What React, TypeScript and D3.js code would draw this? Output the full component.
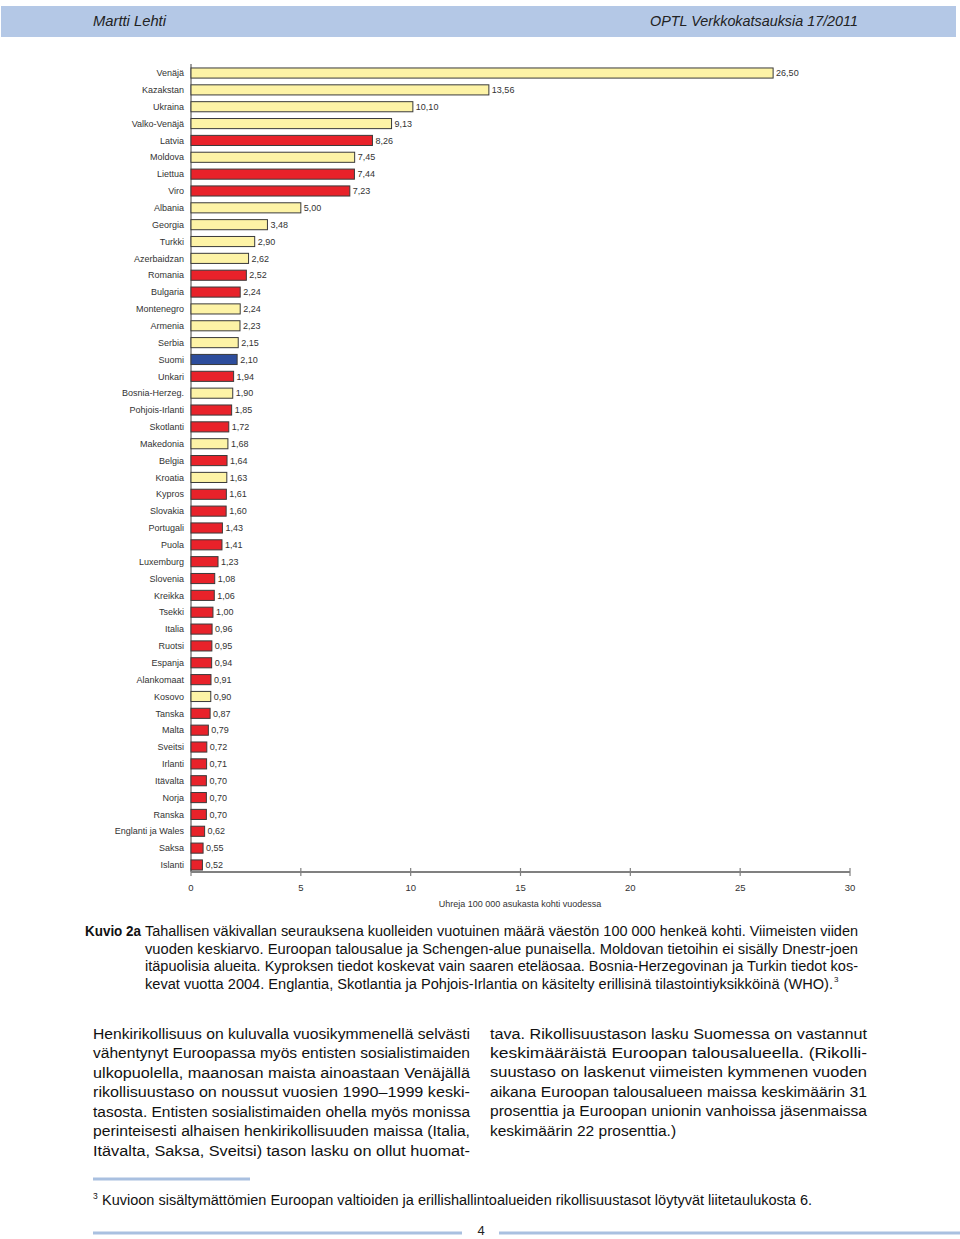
import React from "react";
import * as d3 from "d3";

const countries = ["Venäjä","Kazakstan","Ukraina","Valko-Venäjä","Latvia","Moldova","Liettua","Viro","Albania","Georgia","Turkki","Azerbaidzan","Romania","Bulgaria","Montenegro","Armenia","Serbia","Suomi","Unkari","Bosnia-Herzeg.","Pohjois-Irlanti","Skotlanti","Makedonia","Belgia","Kroatia","Kypros","Slovakia","Portugali","Puola","Luxemburg","Slovenia","Kreikka","Tsekki","Italia","Ruotsi","Espanja","Alankomaat","Kosovo","Tanska","Malta","Sveitsi","Irlanti","Itävalta","Norja","Ranska","Englanti ja Wales","Saksa","Islanti"];
const values = [26.50,13.56,10.10,9.13,8.26,7.45,7.44,7.23,5.00,3.48,2.90,2.62,2.52,2.24,2.24,2.23,2.15,2.10,1.94,1.90,1.85,1.72,1.68,1.64,1.63,1.61,1.60,1.43,1.41,1.23,1.08,1.06,1.00,0.96,0.95,0.94,0.91,0.90,0.87,0.79,0.72,0.71,0.70,0.70,0.70,0.62,0.55,0.52];
// group: O = outside EEA/Schengen, E = EEA/Schengen, F = Finland
const groups = ["O","O","O","O","E","O","E","E","O","O","O","O","E","E","O","O","O","F","E","O","E","E","O","E","O","E","E","E","E","E","E","E","E","E","E","E","E","O","E","E","E","E","E","E","E","E","E","E"];
const xTicks = [0,5,10,15,20,25,30];
const xTitle = "Uhreja 100 000 asukasta kohti vuodessa";

const captionLines = [
  "Tahallisen väkivallan seurauksena kuolleiden vuotuinen määrä väestön 100 000 henkeä kohti. Viimeisten viiden",
  "vuoden keskiarvo. Euroopan talousalue ja Schengen-alue punaisella. Moldovan tietoihin ei sisälly Dnestr-joen",
  "itäpuolisia alueita. Kyproksen tiedot koskevat vain saaren eteläosaa. Bosnia-Herzegovinan ja Turkin tiedot kos-",
  "kevat vuotta 2004. Englantia, Skotlantia ja Pohjois-Irlantia on käsitelty erillisinä tilastointiyksikköinä (WHO).",
];
const leftCol = [
  "Henkirikollisuus on kuluvalla vuosikymmenellä selvästi",
  "vähentynyt Euroopassa myös entisten sosialistimaiden",
  "ulkopuolella, maanosan maista ainoastaan Venäjällä",
  "rikollisuustaso on noussut vuosien 1990–1999 keski-",
  "tasosta. Entisten sosialistimaiden ohella myös monissa",
  "perinteisesti alhaisen henkirikollisuuden maissa (Italia,",
  "Itävalta, Saksa, Sveitsi) tason lasku on ollut huomat-",
];
const rightCol = [
  "tava. Rikollisuustason lasku Suomessa on vastannut",
  "keskimääräistä Euroopan talousalueella. (Rikolli-",
  "suustaso on laskenut viimeisten kymmenen vuoden",
  "aikana Euroopan talousalueen maissa keskimäärin 31",
  "prosenttia ja Euroopan unionin vanhoissa jäsenmaissa",
  "keskimäärin 22 prosenttia.)",
];
const footnote = "Kuvioon sisältymättömien Euroopan valtioiden ja erillishallintoalueiden rikollisuustasot löytyvät liitetaulukosta 6.";

const colorOf: Record<string, string> = { O: "#FDF3A6", E: "#E8222A", F: "#2D4D9C" };
const fmt = (v: number) => d3.format(".2f")(v).replace(".", ",");

export default function App() {
  const W = 960, H = 1239;
  const x = d3.scaleLinear().domain([0, 30]).range([191, 850]);
  const y = d3.scaleBand<string>().domain(countries).range([64.6, 873.4]).paddingInner(0.4).paddingOuter(0.2);
  const font = "'Liberation Sans', Arial, Helvetica, sans-serif";
  const axisY = 872;
  const blue = "#A9C0E0";
  return (
    <div style={{ position: "absolute", left: 0, top: 0 }}>
      <svg width={W} height={H} style={{ display: "block" }} fontFamily={font}>
        <rect x={0} y={0} width={W} height={H} fill="#fff" />
        {/* header */}
        <rect x={1} y={6} width={955} height={31} fill="#B4C8E6" />
        <text x={93} y={26} fontSize={15} fontStyle="italic" fill="#222" textLength={73} lengthAdjust="spacingAndGlyphs">Martti Lehti</text>
        <text x={650} y={26} fontSize={15} fontStyle="italic" fill="#222" textLength={208} lengthAdjust="spacingAndGlyphs">OPTL Verkkokatsauksia 17/2011</text>

        {/* axes */}
        <line x1={191} x2={191} y1={64} y2={axisY} stroke="#808080" strokeWidth={1.5} />
        <line x1={191} x2={x(30)} y1={axisY} y2={axisY} stroke="#808080" strokeWidth={2} />
        {xTicks.map(t => (
          <g key={t}>
            <line x1={x(t)} x2={x(t)} y1={axisY - 4} y2={axisY + 4} stroke="#808080" strokeWidth={1.2} />
            <text x={x(t)} y={891} fontSize={9.5} textAnchor="middle" fill="#333">{t}</text>
          </g>
        ))}
        <text x={520} y={907} fontSize={9} textAnchor="middle" fill="#333">{xTitle}</text>

        {/* bars */}
        {countries.map((c, i) => {
          const by = y(c)!;
          const bw = y.bandwidth();
          return (
            <g key={c}>
              <rect x={x(0)} y={by} width={x(values[i]) - x(0)} height={bw} fill={colorOf[groups[i]]} stroke="#3a3a3a" strokeWidth={1} />
              <text x={184} y={by + bw / 2 + 3.2} fontSize={9} textAnchor="end" fill="#333">{c}</text>
              <text x={x(values[i]) + 3} y={by + bw / 2 + 3.2} fontSize={9} fill="#333">{fmt(values[i])}</text>
            </g>
          );
        })}

        {/* caption */}
        <text x={85} y={936} fontSize={14} fontWeight="bold" fill="#111" textLength={56} lengthAdjust="spacingAndGlyphs">Kuvio 2a</text>
        {captionLines.map((l, i) => (
          <text key={i} x={145} y={936 + i * 17.5} fontSize={14} fill="#111"
            textLength={i < 3 ? 713 : 688} lengthAdjust="spacingAndGlyphs">{l}</text>
        ))}
        <text x={834} y={982} fontSize={8} fill="#111">3</text>

        {/* body columns */}
        {leftCol.map((l, i) => (
          <text key={i} x={93} y={1038.5 + i * 19.5} fontSize={15.5} fill="#111" textLength={377} lengthAdjust="spacingAndGlyphs">{l}</text>
        ))}
        {rightCol.map((l, i) => (
          <text key={i} x={490} y={1038.5 + i * 19.4} fontSize={15.5} fill="#111"
            textLength={i < 5 ? 377 : undefined} lengthAdjust="spacingAndGlyphs">{l}</text>
        ))}

        {/* footnote */}
        <line x1={93} x2={250} y1={1179} y2={1179} stroke={blue} strokeWidth={3} />
        <text x={93} y={1199} fontSize={8.5} fill="#111">3</text>
        <text x={102} y={1205} fontSize={14} fill="#111" textLength={710} lengthAdjust="spacingAndGlyphs">{footnote}</text>

        {/* page footer */}
        <line x1={93} x2={462} y1={1233} y2={1233} stroke={blue} strokeWidth={3} />
        <line x1={499} x2={960} y1={1233} y2={1233} stroke={blue} strokeWidth={3} />
        <text x={481} y={1235} fontSize={13} textAnchor="middle" fill="#222">4</text>
      </svg>
    </div>
  );
}
